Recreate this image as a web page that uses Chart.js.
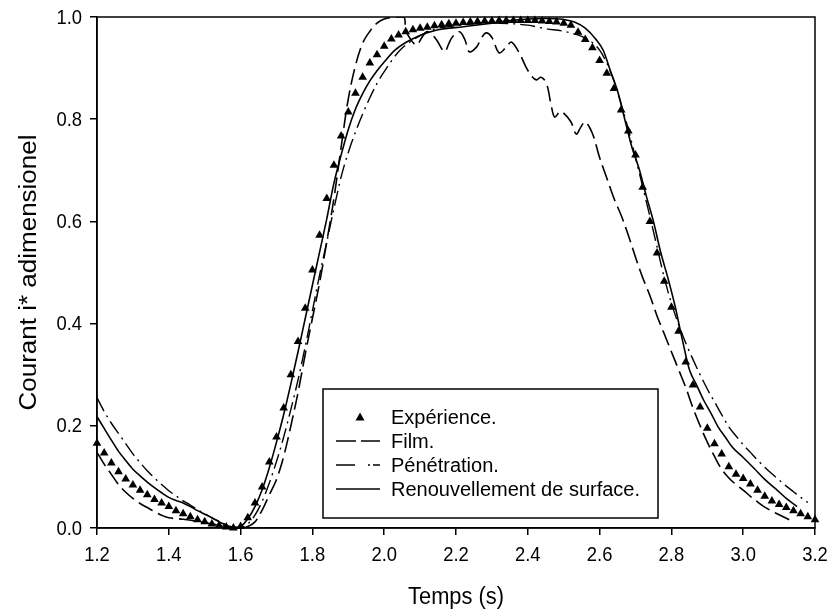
<!DOCTYPE html>
<html><head><meta charset="utf-8">
<script src="https://cdn.jsdelivr.net/npm/chart.js@4/dist/chart.umd.min.js"></script>
<style>html,body{margin:0;padding:0;background:#fff}</style>
</head><body>
<canvas id="c" width="829" height="616"></canvas>
<script>
const xTicks = [1.2, 1.4, 1.6, 1.8, 2.0, 2.2, 2.4, 2.6, 2.8, 3.0, 3.2];
const yTicks = [0.0, 0.2, 0.4, 0.6, 0.8, 1.0];
const seriesNames = ['Expérience.', 'Film.', 'Pénétration.', 'Renouvellement de surface.'];
const xTitle = 'Temps (s)';
const yTitle = 'Courant i* adimensionel';

const expX = [1.20,1.22,1.24,1.26,1.28,1.30,1.32,1.34,1.36,1.38,1.40,1.42,1.44,1.46,1.48,1.50,1.52,1.54,1.56,1.58,1.60,1.62,1.64,1.66,1.68,1.70,1.72,1.74,1.76,1.78,1.80,1.82,1.84,1.86,1.88,1.90,1.92,1.94,1.96,1.98,2.00,2.02,2.04,2.06,2.08,2.10,2.12,2.14,2.16,2.18,2.20,2.22,2.24,2.26,2.28,2.30,2.32,2.34,2.36,2.38,2.40,2.42,2.44,2.46,2.48,2.50,2.52,2.54,2.56,2.58,2.60,2.62,2.64,2.66,2.68,2.70,2.72,2.74,2.76,2.78,2.80,2.82,2.84,2.86,2.88,2.90,2.92,2.94,2.96,2.98,3.00,3.02,3.04,3.06,3.08,3.10,3.12,3.14,3.16,3.18,3.20];
const expY = [0.166,0.147,0.127,0.110,0.096,0.084,0.074,0.065,0.056,0.049,0.042,0.034,0.028,0.022,0.016,0.012,0.008,0.005,0.002,0.000,0.003,0.020,0.049,0.080,0.129,0.178,0.235,0.300,0.365,0.430,0.505,0.573,0.645,0.710,0.767,0.814,0.851,0.882,0.910,0.926,0.943,0.957,0.965,0.971,0.975,0.978,0.980,0.983,0.985,0.987,0.988,0.989,0.990,0.991,0.992,0.992,0.993,0.993,0.993,0.993,0.993,0.993,0.992,0.991,0.990,0.988,0.984,0.970,0.956,0.940,0.915,0.890,0.860,0.818,0.777,0.730,0.667,0.600,0.538,0.483,0.432,0.385,0.325,0.280,0.237,0.195,0.165,0.145,0.120,0.105,0.097,0.086,0.074,0.062,0.053,0.046,0.040,0.034,0.028,0.022,0.016];

const filmX = [1.20,1.22,1.24,1.26,1.28,1.30,1.32,1.34,1.36,1.38,1.40,1.44,1.48,1.52,1.56,1.60,1.62,1.64,1.66,1.68,1.70,1.72,1.74,1.76,1.78,1.80,1.82,1.84,1.86,1.88,1.90,1.92,1.94,1.96,1.98,2.00,2.03,2.055,2.06,2.075,2.09,2.105,2.118,2.13,2.146,2.168,2.18,2.19,2.21,2.225,2.237,2.257,2.27,2.284,2.30,2.32,2.34,2.354,2.376,2.395,2.41,2.424,2.437,2.452,2.466,2.475,2.49,2.50,2.52,2.535,2.548,2.56,2.58,2.60,2.62,2.64,2.66,2.68,2.70,2.72,2.74,2.76,2.78,2.80,2.82,2.84,2.86,2.88,2.90,2.92,2.94,2.96,2.98,3.00,3.02,3.04,3.06,3.08,3.10,3.12,3.14];
const filmY = [0.148,0.125,0.105,0.085,0.070,0.058,0.048,0.040,0.032,0.025,0.020,0.017,0.013,0.008,0.003,0.000,0.003,0.012,0.035,0.065,0.095,0.140,0.200,0.265,0.340,0.410,0.480,0.560,0.645,0.745,0.840,0.905,0.949,0.972,0.988,0.996,1.000,1.000,0.975,0.955,0.945,0.960,0.971,0.968,0.955,0.932,0.948,0.961,0.971,0.955,0.932,0.941,0.958,0.969,0.960,0.930,0.941,0.951,0.930,0.902,0.885,0.877,0.882,0.870,0.824,0.804,0.815,0.812,0.795,0.771,0.785,0.795,0.772,0.725,0.685,0.645,0.612,0.573,0.530,0.490,0.455,0.415,0.380,0.345,0.310,0.275,0.235,0.200,0.168,0.140,0.115,0.098,0.085,0.074,0.062,0.051,0.041,0.033,0.026,0.019,0.012];

const penX = [1.20,1.22,1.24,1.26,1.28,1.30,1.32,1.34,1.36,1.38,1.40,1.42,1.44,1.46,1.48,1.50,1.52,1.54,1.56,1.58,1.60,1.62,1.64,1.66,1.68,1.70,1.72,1.74,1.76,1.78,1.80,1.82,1.84,1.86,1.88,1.90,1.92,1.94,1.96,1.98,2.00,2.04,2.08,2.135,2.20,2.30,2.40,2.45,2.50,2.55,2.58,2.60,2.62,2.64,2.66,2.68,2.70,2.72,2.74,2.76,2.78,2.80,2.82,2.84,2.86,2.88,2.90,2.92,2.94,2.96,2.98,3.00,3.02,3.04,3.06,3.08,3.10,3.12,3.14,3.16,3.18];
const penY = [0.255,0.228,0.205,0.185,0.165,0.145,0.128,0.112,0.098,0.085,0.073,0.063,0.053,0.045,0.036,0.028,0.020,0.013,0.006,0.002,0.001,0.008,0.025,0.052,0.088,0.130,0.178,0.232,0.290,0.355,0.425,0.495,0.560,0.625,0.687,0.735,0.775,0.810,0.842,0.870,0.893,0.932,0.955,0.975,0.983,0.988,0.984,0.977,0.972,0.962,0.950,0.935,0.910,0.875,0.830,0.780,0.725,0.668,0.610,0.550,0.490,0.440,0.398,0.362,0.330,0.300,0.272,0.247,0.222,0.198,0.180,0.163,0.148,0.133,0.119,0.106,0.094,0.082,0.071,0.060,0.050];

const renX = [1.20,1.22,1.24,1.26,1.28,1.30,1.32,1.34,1.36,1.38,1.40,1.42,1.44,1.46,1.48,1.50,1.52,1.54,1.56,1.58,1.60,1.62,1.64,1.66,1.68,1.70,1.72,1.74,1.76,1.78,1.80,1.82,1.84,1.86,1.88,1.90,1.92,1.94,1.96,1.98,2.00,2.03,2.06,2.09,2.12,2.15,2.22,2.30,2.35,2.40,2.45,2.50,2.53,2.56,2.59,2.61,2.63,2.65,2.67,2.69,2.71,2.73,2.75,2.77,2.79,2.81,2.83,2.85,2.87,2.89,2.91,2.93,2.95,2.97,3.00,3.03,3.06,3.09,3.12,3.15];
const renY = [0.218,0.195,0.172,0.150,0.132,0.115,0.102,0.090,0.079,0.069,0.060,0.054,0.049,0.042,0.034,0.027,0.020,0.012,0.006,0.001,0.003,0.018,0.042,0.075,0.118,0.168,0.222,0.282,0.345,0.410,0.475,0.540,0.605,0.675,0.730,0.780,0.820,0.850,0.875,0.895,0.912,0.935,0.950,0.961,0.969,0.975,0.981,0.988,0.993,0.996,0.997,0.995,0.990,0.978,0.956,0.935,0.895,0.855,0.800,0.745,0.703,0.650,0.600,0.540,0.490,0.435,0.370,0.310,0.280,0.250,0.225,0.198,0.178,0.158,0.138,0.117,0.095,0.077,0.058,0.042];

const pts = (xs, ys) => xs.map((x, i) => ({x: x, y: ys[i]}));

const FONT = "'Liberation Sans', Arial, sans-serif";
const filmDash = [16, 6];
const penDash = [15, 5, 2, 5];

const framePlugin = {
  id: 'frame',
  afterDraw(chart) {
    const ctx = chart.ctx, a = chart.chartArea;
    const xs = chart.scales.x, ys = chart.scales.y;
    ctx.save();
    ctx.strokeStyle = '#000';
    ctx.lineWidth = 1.5;
    ctx.strokeRect(a.left, a.top, a.right - a.left, a.bottom - a.top);
    ctx.fillStyle = '#000';
    ctx.font = '20px ' + FONT;
    ctx.textBaseline = 'middle';
    xTicks.forEach(v => {
      ctx.save();
      ctx.translate(xs.getPixelForValue(v), 555);
      ctx.scale(0.92, 1);
      ctx.textAlign = 'center';
      ctx.fillText(v.toFixed(1), 0, 0);
      ctx.restore();
    });
    yTicks.forEach(v => {
      ctx.save();
      ctx.translate(82, ys.getPixelForValue(v) + 1);
      ctx.scale(0.92, 1);
      ctx.textAlign = 'right';
      ctx.fillText(v.toFixed(1), 0, 0);
      ctx.restore();
    });
    ctx.textAlign = 'center';
    ctx.save();
    ctx.font = '23px ' + FONT;
    ctx.translate((a.left + a.right) / 2, 598);
    ctx.scale(0.95, 1);
    ctx.fillText(xTitle, 0, 0);
    ctx.restore();
    ctx.save();
    ctx.font = '26px ' + FONT;
    ctx.translate(30, (a.top + a.bottom) / 2);
    ctx.rotate(-Math.PI / 2);
    ctx.scale(1, 0.9);
    ctx.fillText(yTitle, 0, 0);
    ctx.restore();
    // legend
    const bx = 323, by = 389, bw = 335, bh = 129;
    ctx.fillStyle = '#fff';
    ctx.fillRect(bx, by, bw, bh);
    ctx.strokeStyle = '#000';
    ctx.lineWidth = 1.5;
    ctx.strokeRect(bx, by, bw, bh);
    const rows = [417, 441, 465, 489];
    const sx0 = 336, tx = 391;
    ctx.fillStyle = '#000';
    const cx = 360, cy = rows[0];
    ctx.beginPath();
    ctx.moveTo(cx, cy - 4.5); ctx.lineTo(cx + 4.5, cy + 3.5); ctx.lineTo(cx - 4.5, cy + 3.5); ctx.closePath();
    ctx.fill();
    ctx.lineWidth = 1.5;
    const seg = (y, parts) => parts.forEach(p => { ctx.beginPath(); ctx.moveTo(sx0 + p[0], y); ctx.lineTo(sx0 + p[1], y); ctx.stroke(); });
    seg(rows[1], [[0, 20], [25, 44]]);
    seg(rows[2], [[0, 19], [32, 34], [37, 44]]);
    seg(rows[3], [[0, 44]]);
    ctx.textAlign = 'left';
    ctx.font = '20px ' + FONT;
    seriesNames.forEach((n, i) => ctx.fillText(n, tx, rows[i] + 1));
    ctx.restore();
  }
};

new Chart(document.getElementById('c'), {
  type: 'scatter',
  data: {
    datasets: [
      { label: seriesNames[0], data: pts(expX, expY), showLine: false, pointStyle: 'triangle', pointRadius: 5,
        backgroundColor: '#000', borderColor: '#000', borderWidth: 0, clip: false, order: 0 },
      { label: seriesNames[1], data: pts(filmX, filmY), showLine: true, pointRadius: 0, borderColor: '#000',
        borderWidth: 1.6, borderDash: filmDash, tension: 0.35, order: 1 },
      { label: seriesNames[2], data: pts(penX, penY), showLine: true, pointRadius: 0, borderColor: '#000',
        borderWidth: 1.4, borderDash: penDash, cubicInterpolationMode: 'monotone', order: 2 },
      { label: seriesNames[3], data: pts(renX, renY), showLine: true, pointRadius: 0, borderColor: '#000',
        borderWidth: 1.6, cubicInterpolationMode: 'monotone', order: 3 }
    ]
  },
  options: {
    responsive: false,
    animation: false,
    devicePixelRatio: 1,
    layout: { padding: { left: 0, top: 17, right: 14, bottom: 0 } },
    plugins: { legend: { display: false }, tooltip: { enabled: false } },
    scales: {
      x: {
        type: 'linear', min: xTicks[0], max: xTicks[xTicks.length - 1],
        afterFit: s => { s.height = 88; },
        afterBuildTicks: s => { s.ticks = xTicks.map(v => ({value: v})); },
        grid: { drawOnChartArea: false, drawTicks: true, tickLength: 7, color: '#000', lineWidth: 1.5 },
        border: { display: true, color: '#000', width: 1.5 },
        ticks: { display: false }
      },
      y: {
        type: 'linear', min: yTicks[0], max: yTicks[yTicks.length - 1],
        afterFit: s => { s.width = 97; },
        afterBuildTicks: s => { s.ticks = yTicks.map(v => ({value: v})); },
        grid: { drawOnChartArea: false, drawTicks: true, tickLength: 7, color: '#000', lineWidth: 1.5 },
        border: { display: true, color: '#000', width: 1.5 },
        ticks: { display: false }
      }
    }
  },
  plugins: [framePlugin]
});
</script>
</body></html>
